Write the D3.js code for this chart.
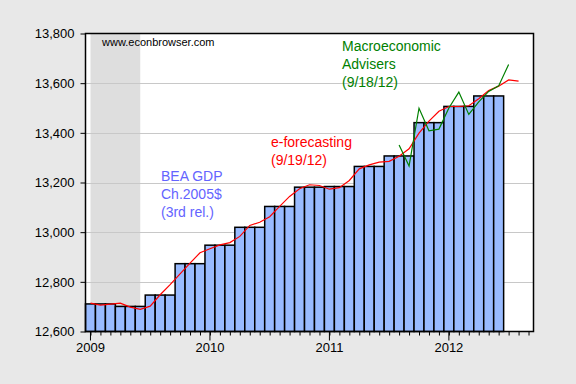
<!DOCTYPE html>
<html>
<head>
<meta charset="utf-8">
<script src="https://cdn.jsdelivr.net/npm/d3@7"></script>
<style>
  html, body { margin: 0; padding: 0; background: #e8e8e8; }
  svg { display: block; font-family: "Liberation Sans", Arial, sans-serif; }
</style>
</head>
<body>
<svg id="chart" width="576" height="384"></svg>
<script>
// quarterly BEA GDP, Ch.2005$ (3rd release), 2009Q1 .. 2012Q2
let quarters = ["2009Q1", "2009Q2", "2009Q3", "2009Q4", "2010Q1", "2010Q2", "2010Q3",
                "2010Q4", "2011Q1", "2011Q2", "2011Q3", "2011Q4", "2012Q1", "2012Q2"];
let beaGdp = [12711.0, 12701.0, 12746.7, 12873.1, 12947.6, 13019.6, 13103.5,
              13181.2, 13183.8, 13264.7, 13306.9, 13441.0, 13506.4, 13548.5];

// monthly e-forecasting (9/19/12), Jan 2009 .. Aug 2012
let eForecast = [12714, 12706, 12710, 12714, 12698, 12689, 12702, 12748, 12789, 12832,
                 12875, 12917, 12933, 12949, 12958, 12983, 13027, 13040, 13062, 13104,
                 13144, 13175, 13191, 13188, 13173, 13179, 13208, 13255, 13271, 13282,
                 13285, 13306, 13336, 13399, 13447, 13487, 13506, 13506, 13509, 13537,
                 13570, 13588, 13613, 13608];

// monthly Macroeconomic Advisers (9/18/12), Aug 2011 .. Jul 2012
let maStart = 31;   // month index of Aug 2011
let macroAdvisers = [13351, 13266, 13499, 13408, 13415, 13500, 13564, 13474,
                     13525, 13567, 13589, 13675];

let yearLabels = ["2009", "2010", "2011", "2012"];
let yTicks = [12600, 12800, 13000, 13200, 13400, 13600, 13800];
let recession = [0, 5];   // Jan 2009 .. Jun 2009 (month index)
let numMonths = 45;       // Jan 2009 .. Sep 2012

let plotLeft = 85.5, plotRight = 533.5, plotTop = 33.5, plotBottom = 331.5;

let svg = d3.select('#chart');

let x = d3.scaleLinear().domain([-0.5, numMonths - 0.5]).range([plotLeft, plotRight]);
let y = d3.scaleLinear().domain([12600, 13800]).range([plotBottom, plotTop]);

// plot background
svg.append('rect')
   .attr('x', plotLeft).attr('y', plotTop)
   .attr('width', plotRight - plotLeft).attr('height', plotBottom - plotTop)
   .attr('fill', '#ffffff');

// recession shading
svg.append('rect')
   .attr('x', x(recession[0])).attr('y', plotTop)
   .attr('width', x(recession[1]) - x(recession[0])).attr('height', plotBottom - plotTop)
   .attr('fill', '#dedede');

// grid lines
svg.append('g').selectAll('line')
   .data(yTicks.slice(1, -1))
   .join('line')
   .attr('x1', plotLeft).attr('x2', plotRight)
   .attr('y1', d => Math.round(y(d)) + 0.5).attr('y2', d => Math.round(y(d)) + 0.5)
   .attr('stroke', '#c8c8c8').attr('stroke-width', 1);

// monthly bars from quarterly values
let bars = [];
beaGdp.forEach(function (v, q) {
  for (let m = 0; m < 3; m++) bars.push({ month: q * 3 + m, value: v });
});

svg.append('g').selectAll('rect')
   .data(bars)
   .join('rect')
   .attr('x', d => x(d.month - 0.5))
   .attr('y', d => y(d.value))
   .attr('width', d => x(d.month + 0.5) - x(d.month - 0.5))
   .attr('height', d => y(12600) - y(d.value))
   .attr('fill', '#99bbff')
   .attr('stroke', '#000000')
   .attr('stroke-width', 1.5);

// lines
let line = d3.line().x(d => x(d.i)).y(d => y(d.v));

svg.append('path')
   .datum(eForecast.map((v, i) => ({ i: i, v: v })))
   .attr('d', line)
   .attr('fill', 'none')
   .attr('stroke', '#ff0000')
   .attr('stroke-width', 1.2);

svg.append('path')
   .datum(macroAdvisers.map((v, i) => ({ i: maStart + i, v: v })))
   .attr('d', line)
   .attr('fill', 'none')
   .attr('stroke', '#008000')
   .attr('stroke-width', 1.2);

// frame
svg.append('rect')
   .attr('x', plotLeft).attr('y', plotTop)
   .attr('width', plotRight - plotLeft).attr('height', plotBottom - plotTop)
   .attr('fill', 'none')
   .attr('stroke', '#000000')
   .attr('stroke-width', 1.5);

// y axis
let yAxis = d3.axisLeft(y)
              .tickValues(yTicks)
              .tickSize(5)
              .tickPadding(6)
              .tickFormat(d3.format(','));

svg.append('g')
   .attr('transform', 'translate(' + plotLeft + ',0)')
   .call(yAxis)
   .call(g => g.select('.domain').remove())
   .call(g => g.selectAll('line').attr('stroke', '#000'))
   .call(g => g.selectAll('text')
               .attr('font-size', 13)
               .attr('font-family', '"Liberation Sans", Arial, sans-serif')
               .attr('fill', '#000'));

// x axis: monthly minor ticks, longer year ticks
let xAxis = d3.axisBottom(x)
              .tickValues(d3.range(0, numMonths))
              .tickSize(4)
              .tickFormat('');

svg.append('g')
   .attr('transform', 'translate(0,' + plotBottom + ')')
   .call(xAxis)
   .call(g => g.select('.domain').remove())
   .call(g => g.selectAll('line').attr('stroke', '#000'));

let years = svg.append('g').selectAll('g')
               .data(yearLabels)
               .join('g')
               .attr('transform', (d, i) => 'translate(' + x(i * 12) + ',' + plotBottom + ')');

years.append('line')
     .attr('y1', 0).attr('y2', 9)
     .attr('stroke', '#000');

years.append('text')
     .attr('y', 20.5)
     .attr('text-anchor', 'middle')
     .attr('font-size', 13)
     .text(d => d);

// annotations
svg.append('text')
   .attr('x', 102).attr('y', 46)
   .attr('font-size', 11)
   .text('www.econbrowser.com');

let addLabel = function (lines, x0, y0, color) {
  svg.append('g').selectAll('text')
     .data(lines)
     .join('text')
     .attr('x', x0)
     .attr('y', (d, i) => y0 + i * 18)
     .attr('font-size', 14)
     .attr('fill', color)
     .text(d => d);
}

addLabel(['BEA GDP', 'Ch.2005$', '(3rd rel.)'], 161, 181, '#6464ff');
addLabel(['e-forecasting', '(9/19/12)'], 271, 147, '#ff0000');
addLabel(['Macroeconomic', 'Advisers', '(9/18/12)'], 342, 51, '#008000');
</script>
</body>
</html>
